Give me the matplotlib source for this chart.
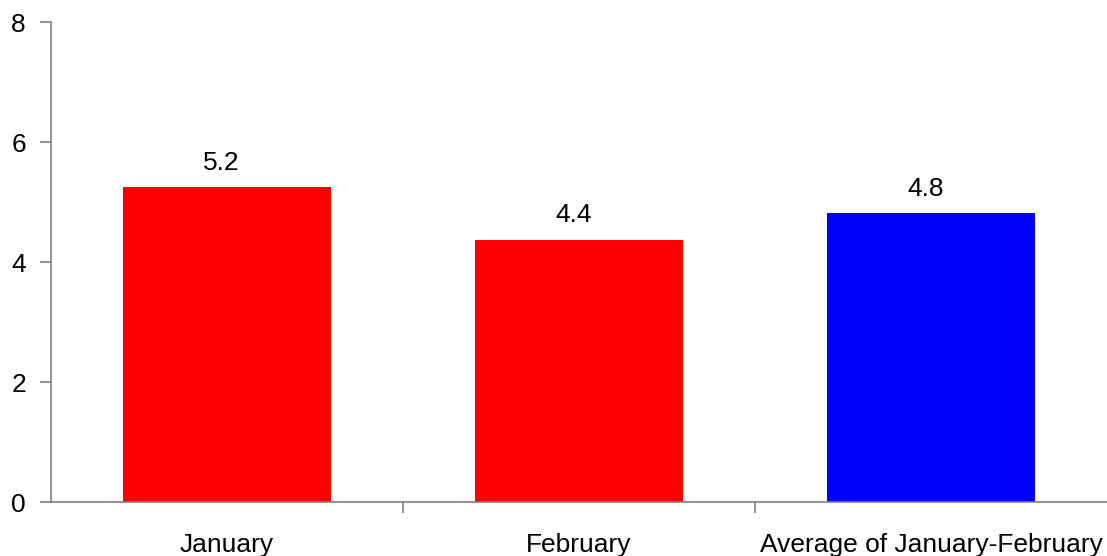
import matplotlib.pyplot as plt

# data
categories = ['January', 'February', 'Average of January-February']
values = [5.25, 4.37, 4.81]
value_labels = ['5.2', '4.4', '4.8']
colors = ['#ff0000', '#ff0000', '#0000ff']
yticks = [0, 2, 4, 6, 8]

plt.rcParams['font.family'] = ['Liberation Sans', 'DejaVu Sans']

fig = plt.figure(figsize=(11.07, 5.56), dpi=100)
ax = fig.add_axes([51 / 1107, 1 - 502 / 556, 1 - 51 / 1107, 480 / 556])

x = range(len(categories))
bars = ax.bar(x, values, width=0.59, color=colors, zorder=2)

# value labels above bars
for b, lab in zip(bars, value_labels):
    ax.annotate(lab, (b.get_x() + b.get_width() / 2, b.get_height()),
                xytext=(-4, 9), textcoords='offset points',
                ha='center', va='bottom', fontsize=19)

ax.set_xlim(-0.5, len(categories) - 0.5)
ax.set_ylim(0, 8)
ax.set_yticks(yticks)

# major ticks between categories, labels at centres
ax.set_xticks([i + 0.5 for i in range(len(categories) - 1)])
ax.set_xticklabels([])
ax.set_xticks(list(x), minor=True)
ax.set_xticklabels(categories, minor=True)
ax.tick_params(axis='x', which='minor', length=0, pad=22, labelsize=19)
ax.tick_params(axis='x', which='major', length=8, width=1.2, color='#808080')
ax.tick_params(axis='y', length=8, width=1.2, color='#808080', pad=10, labelsize=19)

for s in ['top', 'right']:
    ax.spines[s].set_visible(False)
for s in ['left', 'bottom']:
    ax.spines[s].set_color('#808080')
    ax.spines[s].set_linewidth(1.2)

fig.savefig('out.png', dpi=100)
